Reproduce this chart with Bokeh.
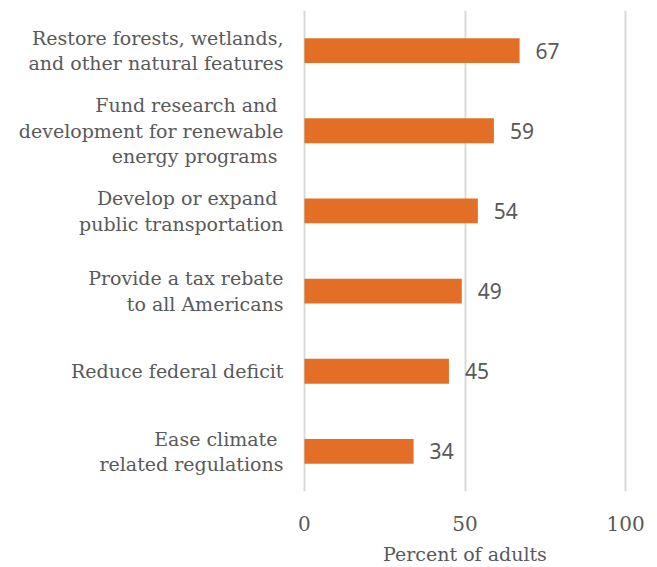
from bokeh.plotting import figure
from bokeh.models import ColumnDataSource, FactorRange, Range1d
from bokeh.core.properties import value
from bokeh.embed import file_html
from bokeh.resources import INLINE

categories = [
    "Restore forests, wetlands,\nand other natural features",
    "Fund research and \ndevelopment for renewable\nenergy programs ",
    "Develop or expand \npublic transportation",
    "Provide a tax rebate\nto all Americans",
    "Reduce federal deficit",
    "Ease climate \nrelated regulations",
]
percents = [67, 59, 54, 49, 45, 34]
x_ticks = [0, 50, 100]
x_title = "Percent of adults"

BAR = "#E36F26"
GRAY = "#595959"
SERIF = "DejaVu Serif"

src = ColumnDataSource(dict(cat=categories, val=percents,
                            lbl=[str(v) for v in percents]))

p = figure(width=656, height=567, output_backend="svg", toolbar_location=None,
           y_range=FactorRange(*list(reversed(categories)), range_padding=0),
           x_range=Range1d(-0.6, 100.6),
           min_border_left=302, min_border_right=29, min_border_top=10,
           min_border_bottom=0)
p.outline_line_color = None
p.background_fill_color = "white"
p.border_fill_color = "white"

p.hbar(y="cat", right="val", left=0, height=0.31, source=src,
       fill_color=BAR, line_color=None)
p.text(x="val", y="cat", text="lbl", source=src, x_offset=16,
       text_baseline="middle", text_align="left", text_color=GRAY,
       text_font=value("Noto Sans"), text_font_size="21px")

p.xaxis.ticker = x_ticks
p.xaxis.axis_label = x_title
p.xaxis.axis_line_color = None
p.xaxis.major_tick_line_color = None
p.xaxis.minor_tick_line_color = None
p.xaxis.major_label_text_font = SERIF
p.xaxis.major_label_text_font_size = "20px"
p.xaxis.major_label_text_color = GRAY
p.xaxis.major_label_standoff = 18
p.xaxis.axis_label_text_font = SERIF
p.xaxis.axis_label_text_font_size = "19px"
p.xaxis.axis_label_text_font_style = "normal"
p.xaxis.axis_label_text_color = GRAY
p.xaxis.axis_label_standoff = 9

p.yaxis.axis_line_color = None
p.yaxis.major_tick_line_color = None
p.yaxis.minor_tick_line_color = None
p.yaxis.major_label_text_font = SERIF
p.yaxis.major_label_text_font_size = "19px"
p.yaxis.major_label_text_color = GRAY
p.yaxis.major_label_text_line_height = 1.15
p.yaxis.major_label_standoff = 13

p.xgrid.grid_line_color = "#d9d9d9"
p.xgrid.grid_line_width = 2
p.ygrid.grid_line_color = None

open("out.html", "w").write(file_html(p, INLINE))
